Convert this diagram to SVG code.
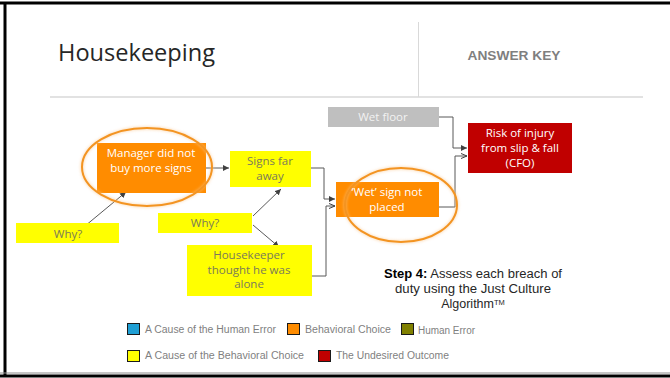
<svg xmlns="http://www.w3.org/2000/svg" width="670" height="378" viewBox="0 0 670 378">
<style>
  .box-text { font-family: "Open Sans", "Liberation Sans", sans-serif; font-size: 11.5px; text-anchor: middle; }
  .white { fill: #ffffff; }
  .olive { fill: #7a7a5a; }
  .conn { fill: none; stroke: #595959; stroke-width: 1; }
  .leg { font-family: "Liberation Sans", sans-serif; font-size: 10px; fill: #7f7f7f; }
  .sq { stroke: #1a1a1a; stroke-width: 1; }
  .ring { fill: none; stroke: #f39422; stroke-width: 2; }
  .halo { fill: none; stroke: #f9c58a; stroke-width: 3; opacity: 0.6; }
  .step { font-family: "Liberation Sans", sans-serif; font-size: 12.5px; fill: #262626; text-anchor: middle; }
</style>
<defs>
  <marker id="arr" viewBox="0 0 6 6" refX="6" refY="3" markerWidth="6" markerHeight="6" orient="auto" markerUnits="userSpaceOnUse">
    <path d="M0,0 L6,3 L0,6 Z" fill="#404040"/>
  </marker>
  <marker id="arrOpen" viewBox="0 0 6 6" refX="6" refY="3" markerWidth="6" markerHeight="6" orient="auto" markerUnits="userSpaceOnUse">
    <path d="M0,0.5 L6,3 L0,5.5" fill="none" stroke="#404040" stroke-width="1"/>
  </marker>
  <filter id="glow" x="-20%" y="-20%" width="140%" height="140%">
    <feGaussianBlur stdDeviation="1.5"/>
  </filter>
</defs>

<rect x="0" y="0" width="670" height="378" fill="#ffffff"/>

<!-- frame -->
<g id="frame">
  <line x1="0" y1="3" x2="670" y2="3" stroke="#000" stroke-width="3"/>
  <line x1="5" y1="2" x2="5" y2="377" stroke="#000" stroke-width="3"/>
  <line x1="0" y1="373" x2="670" y2="373" stroke="#8c8c8c" stroke-width="1"/>
  <line x1="0" y1="376" x2="670" y2="376" stroke="#000" stroke-width="3"/>
</g>

<!-- header -->
<g id="header">
  <text x="58" y="61" font-family="'Open Sans', 'Liberation Sans', sans-serif" font-size="24" fill="#262626" textLength="157" lengthAdjust="spacingAndGlyphs">Housekeeping</text>
  <line x1="418.5" y1="22" x2="418.5" y2="97" stroke="#d9d9d9" stroke-width="1"/>
  <line x1="50" y1="97" x2="643" y2="97" stroke="#d9d9d9" stroke-width="1.5"/>
  <text x="514" y="60" font-family="'Liberation Sans', sans-serif" font-size="13" font-weight="bold" fill="#7f7f7f" text-anchor="middle" textLength="93" lengthAdjust="spacingAndGlyphs">ANSWER KEY</text>
</g>

<!-- connectors -->
<g id="connectors">
  <polyline class="conn" points="439,117 453,117 453,148 467,148" marker-end="url(#arr)"/>
  <polyline class="conn" points="439,207 455,207 455,156 467,156" marker-end="url(#arrOpen)"/>
  <line class="conn" x1="205" y1="168" x2="229" y2="168" marker-end="url(#arr)"/>
  <polyline class="conn" points="311,168 324,168 324,199 335,199" marker-end="url(#arr)"/>
  <polyline class="conn" points="312,276 326,276 326,206 335,206" marker-end="url(#arrOpen)"/>
  <line class="conn" x1="85" y1="226" x2="126" y2="192" marker-end="url(#arr)"/>
  <line class="conn" x1="253" y1="216" x2="281" y2="189" marker-end="url(#arr)"/>
  <line class="conn" x1="253" y1="225" x2="279" y2="247" marker-end="url(#arr)"/>
</g>

<!-- nodes -->
<g id="wet-floor">
  <rect x="328" y="107" width="111" height="20" fill="#bfbfbf"/>
  <text class="box-text" x="383" y="121" fill="#f2f2f2">Wet floor</text>
</g>

<g id="risk-of-injury">
  <rect x="468" y="123" width="104" height="50" fill="#c00000"/>
  <text class="box-text white" x="520" y="137">Risk of injury</text>
  <text class="box-text white" x="520" y="152">from slip &amp; fall</text>
  <text class="box-text white" x="520" y="167">(CFO)</text>
</g>

<g id="manager">
  <rect x="97" y="143" width="109" height="50" fill="#ff8c00"/>
  <ellipse class="halo" cx="147" cy="167" rx="65" ry="39" filter="url(#glow)"/>
  <ellipse class="ring" cx="147" cy="167" rx="65" ry="39"/>
  <text class="box-text white" x="151" y="157">Manager did not</text>
  <text class="box-text white" x="151" y="172">buy more signs</text>
</g>

<g id="signs-far-away">
  <rect x="230" y="151" width="81" height="36" fill="#ffff00"/>
  <text class="box-text olive" x="270" y="165">Signs far</text>
  <text class="box-text olive" x="270" y="180">away</text>
</g>

<g id="wet-sign">
  <rect x="336" y="182" width="103" height="35" fill="#ff8c00"/>
  <ellipse class="halo" cx="401" cy="205" rx="56" ry="37" filter="url(#glow)"/>
  <ellipse class="ring" cx="401" cy="205" rx="56" ry="37"/>
  <text class="box-text white" x="387" y="196">‘Wet’ sign not</text>
  <text class="box-text white" x="387" y="211">placed</text>
</g>

<g id="why-left">
  <rect x="16" y="223" width="103" height="20" fill="#ffff00"/>
  <text class="box-text olive" x="68" y="238" font-size="12.5">Why?</text>
</g>

<g id="why-mid">
  <rect x="158" y="213" width="94" height="20" fill="#ffff00"/>
  <text class="box-text olive" x="205" y="227" font-size="12.5">Why?</text>
</g>

<g id="housekeeper">
  <rect x="187" y="245" width="125" height="51" fill="#ffff00"/>
  <text class="box-text olive" x="249" y="259">Housekeeper</text>
  <text class="box-text olive" x="249" y="274">thought he was</text>
  <text class="box-text olive" x="249" y="288">alone</text>
</g>

<g id="step4">
  <text class="step" x="473" y="278" textLength="178" lengthAdjust="spacingAndGlyphs"><tspan font-weight="bold" fill="#000">Step 4:</tspan>  Assess each breach of</text>
  <text class="step" x="473" y="293" textLength="156" lengthAdjust="spacingAndGlyphs">duty using the Just Culture</text>
  <text class="step" x="473" y="308">Algorithm<tspan font-size="7.5" dy="-3.5">TM</tspan></text>
</g>

<!-- legend -->
<g id="legend">
  <rect class="sq" x="127.5" y="323.5" width="12" height="11" fill="#1f9fd4"/>
  <text class="leg" x="145" y="333" textLength="131" lengthAdjust="spacingAndGlyphs">A Cause of the Human Error</text>
  <rect class="sq" x="287.5" y="323.5" width="12" height="11" fill="#ff8c00"/>
  <text class="leg" x="305" y="333" textLength="86" lengthAdjust="spacingAndGlyphs">Behavioral Choice</text>
  <rect class="sq" x="401.5" y="323.5" width="12" height="11" fill="#808000"/>
  <text class="leg" x="418" y="334" textLength="57" lengthAdjust="spacingAndGlyphs">Human Error</text>

  <rect class="sq" x="127.5" y="350.5" width="12" height="11" fill="#ffff00"/>
  <text class="leg" x="145" y="359" textLength="159" lengthAdjust="spacingAndGlyphs">A Cause of the Behavioral Choice</text>
  <rect class="sq" x="318.5" y="350.5" width="12" height="11" fill="#c00000"/>
  <text class="leg" x="336" y="359" textLength="113" lengthAdjust="spacingAndGlyphs">The Undesired Outcome</text>
</g>
</svg>
